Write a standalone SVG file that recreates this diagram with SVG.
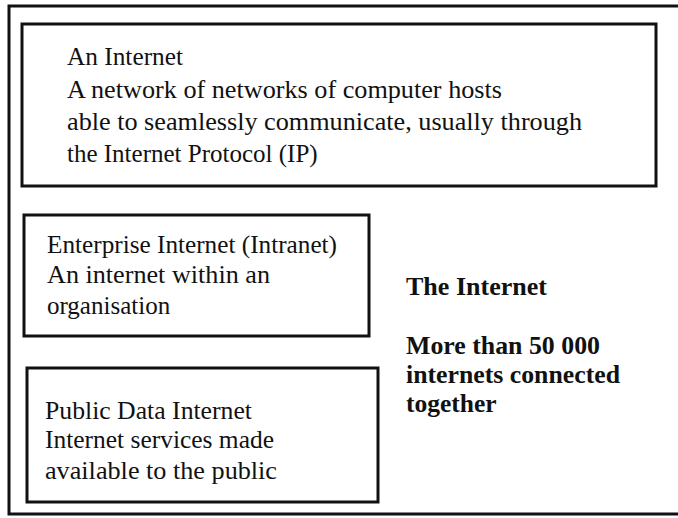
<svg xmlns="http://www.w3.org/2000/svg" width="678" height="518" viewBox="0 0 678 518">
<style>
.box{fill:none;stroke:#111;stroke-width:3}
.t{font-family:"Liberation Serif","Times New Roman",serif;font-size:25px;fill:#111}
.b{font-family:"Liberation Serif","Times New Roman",serif;font-size:25.5px;font-weight:bold;fill:#111}
</style>
<rect width="678" height="518" fill="#fff"/>
<g id="frame"><path class="box" d="M690,6 H9 V514 H690"/></g>
<g id="an-internet">
<rect class="box" x="22" y="24" width="634" height="162"/>
<text class="t" x="67" y="65" textLength="116" lengthAdjust="spacingAndGlyphs">An Internet</text>
<text class="t" x="67" y="98" textLength="435" lengthAdjust="spacingAndGlyphs">A network of networks of computer hosts</text>
<text class="t" x="67" y="130" textLength="515" lengthAdjust="spacingAndGlyphs">able to seamlessly communicate, usually through</text>
<text class="t" x="67" y="162">the Internet Protocol (IP)</text>
</g>
<g id="enterprise">
<rect class="box" x="24" y="215" width="345" height="121"/>
<text class="t" x="47" y="253" textLength="290" lengthAdjust="spacingAndGlyphs">Enterprise Internet (Intranet)</text>
<text class="t" x="47" y="283" textLength="223" lengthAdjust="spacingAndGlyphs">An internet within an</text>
<text class="t" x="47" y="314">organisation</text>
</g>
<g id="public">
<rect class="box" x="27" y="368" width="351" height="134"/>
<text class="t" x="45" y="419" textLength="207" lengthAdjust="spacingAndGlyphs">Public Data Internet</text>
<text class="t" x="45" y="448" textLength="229" lengthAdjust="spacingAndGlyphs">Internet services made</text>
<text class="t" x="45" y="479" textLength="232" lengthAdjust="spacingAndGlyphs">available to the public</text>
</g>
<g id="the-internet">
<text class="b" x="406" y="295" textLength="141" lengthAdjust="spacingAndGlyphs">The Internet</text>
<text class="b" x="406" y="354" textLength="194" lengthAdjust="spacingAndGlyphs">More than 50 000</text>
<text class="b" x="406" y="383" textLength="214" lengthAdjust="spacingAndGlyphs">internets connected</text>
<text class="b" x="406" y="412">together</text>
</g>
<g id="connectors"/>
</svg>
